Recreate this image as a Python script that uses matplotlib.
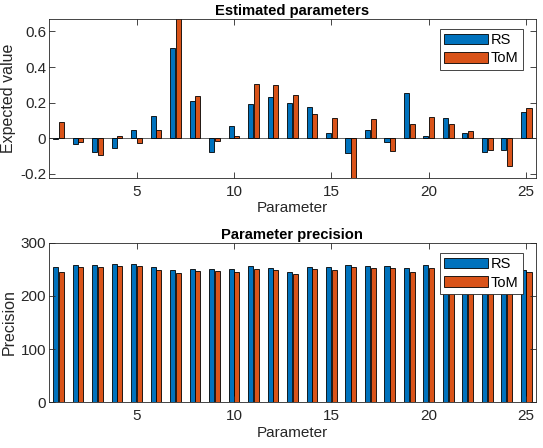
import numpy as np
import matplotlib
matplotlib.use("Agg")
import matplotlib.pyplot as plt

params = np.arange(1, 26)

rs_value = [-0.003, -0.035, -0.08, -0.055, 0.048, 0.125, 0.51, 0.21, -0.075, 0.07,
            0.195, 0.232, 0.196, 0.175, 0.028, -0.082, 0.045, -0.019, 0.252, 0.011,
            0.112, 0.028, -0.08, -0.067, 0.148]
tom_value = [0.09, -0.02, -0.095, 0.01, -0.025, 0.048, 0.70, 0.24, -0.015, 0.012,
             0.305, 0.298, 0.245, 0.136, 0.116, -0.25, 0.11, -0.071, 0.079, 0.118,
             0.082, 0.039, -0.064, -0.157, 0.17]

rs_prec = [254, 259, 259, 260, 260, 254, 249, 251, 251, 251,
           255.5, 253, 246, 254, 254, 259, 256, 257, 253, 257.5,
           255, 254, 252, 250, 249]
tom_prec = [245, 255, 255, 256, 256, 249, 243, 247.5, 247, 246,
            250.5, 249, 240.5, 250, 249, 254, 252, 252.5, 246, 253,
            250, 249, 247, 245, 245]

blue = '#0072BD'
orange = '#D95319'
axcol = '#262626'

plt.rcParams['font.family'] = ['Liberation Sans', 'DejaVu Sans']
plt.rcParams['font.size'] = 10

fig = plt.figure(figsize=(5.43, 4.48), dpi=100)
ax1 = fig.add_axes([0.090, 0.6033, 0.897, 0.355])
ax2 = fig.add_axes([0.090, 0.102, 0.897, 0.356])

w = 0.26
off = 0.145


def style(ax):
    ax.set_xlim(0.5, 25.5)
    ax.set_xticks([5, 10, 15, 20, 25])
    ax.tick_params(direction='in', top=True, right=True, length=4, width=0.6,
                   colors=axcol, labelsize=11)
    ax.tick_params(axis='x', pad=5)
    ax.tick_params(axis='y', pad=2)
    for s in ax.spines.values():
        s.set_color(axcol)
        s.set_linewidth(0.6)
    ax.set_xlabel('Parameter', fontsize=11, color=axcol, labelpad=2)


ax1.bar(params - off, rs_value, w, color=blue, edgecolor='black', linewidth=0.6, label='RS')
ax1.bar(params + off, tom_value, w, color=orange, edgecolor='black', linewidth=0.6, label='ToM')
ax1.axhline(0, color=axcol, linewidth=0.5, zorder=0)
ax1.set_ylim(-0.222, 0.672)
ax1.set_yticks([-0.2, 0, 0.2, 0.4, 0.6])
ax1.set_yticklabels(['-0.2', '0', '0.2', '0.4', '0.6'])
style(ax1)
ax1.set_ylabel('Expected value', fontsize=11.5, color=axcol, labelpad=3)
ax1.set_title('Estimated parameters', fontsize=10.6, fontweight='bold', pad=3)

ax2.bar(params - off, rs_prec, w, color=blue, edgecolor='black', linewidth=0.6, label='RS')
ax2.bar(params + off, tom_prec, w, color=orange, edgecolor='black', linewidth=0.6, label='ToM')
ax2.set_ylim(0, 300)
ax2.set_yticks([0, 100, 200, 300])
style(ax2)
ax2.set_ylabel('Precision', fontsize=11.5, color=axcol, labelpad=3)
ax2.set_title('Parameter precision', fontsize=10.6, fontweight='bold', pad=3)

for ax in (ax1, ax2):
    leg = ax.legend(loc='upper right', fontsize=10.5, handlelength=3.0, handleheight=0.75,
                    handletextpad=0.2, labelspacing=0.3, borderpad=0.3,
                    fancybox=False, framealpha=1, edgecolor='#262626',
                    bbox_to_anchor=(0.973, 0.937), borderaxespad=0)
    leg.get_frame().set_linewidth(0.6)

fig.savefig('out.png', dpi=100)
